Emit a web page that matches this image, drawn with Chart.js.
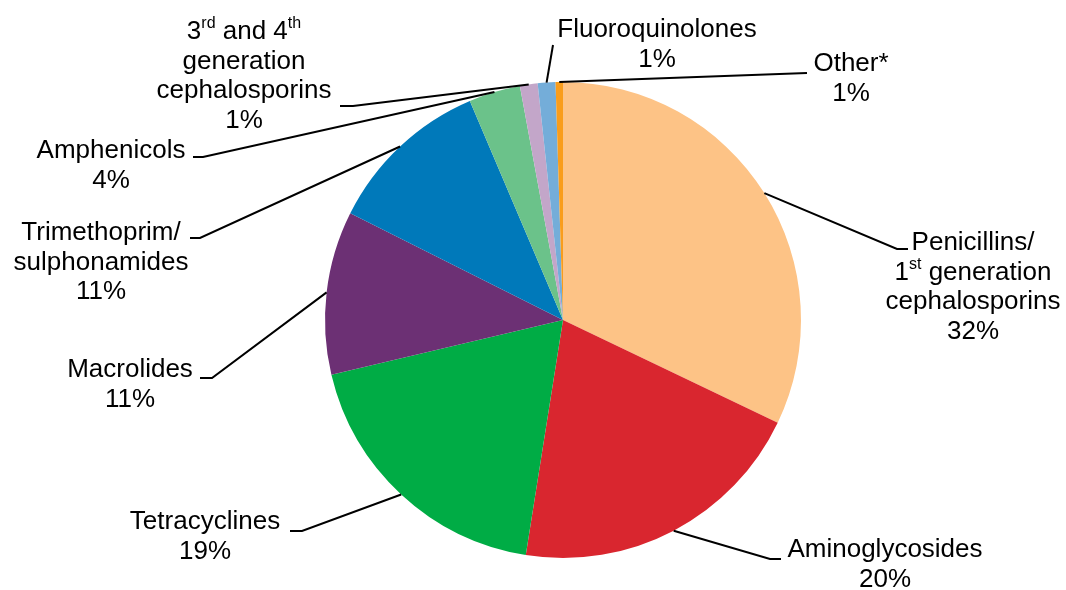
<!DOCTYPE html>
<html>
<head>
<meta charset="utf-8">
<script src="https://cdn.jsdelivr.net/npm/chart.js@4/dist/chart.umd.min.js"></script>
<style>
  html, body { margin: 0; padding: 0; background: #fff; }
  #wrap { width: 1066px; height: 590px; }
</style>
</head>
<body>
<div id="wrap"><canvas id="pie" width="1066" height="590"></canvas></div>
<script>
// ^{..} marks superscript text in the labels
const categories = [
  "Penicillins/\n1^{st} generation\ncephalosporins",
  "Aminoglycosides",
  "Tetracyclines",
  "Macrolides",
  "Trimethoprim/\nsulphonamides",
  "Amphenicols",
  "3^{rd} and 4^{th}\ngeneration\ncephalosporins",
  "Fluoroquinolones",
  "Other*"
];
const shares = [32.1, 20.4, 18.8, 11.1, 11.2, 3.5, 1.2, 1.2, 0.5];
const sliceColors = [
  "#FDC386", "#D9262F", "#00AC45", "#6C3074", "#0079BA",
  "#6BC28A", "#C3A6C9", "#74ADD9", "#F99D1C"
];

// where each label sits (centre of its first line) and how its leader bends
const labelLayout = [
  { x: 973, y: 243, elbow: [897, 249], end: 908 },
  { x: 885, y: 550, elbow: [770, 559], end: 781 },
  { x: 205, y: 522, elbow: [302, 531], end: 290 },
  { x: 130, y: 370, elbow: [212, 378], end: 200 },
  { x: 101, y: 233, elbow: [200, 238], end: 190 },
  { x: 111, y: 151, elbow: [203, 157], end: 193 },
  { x: 244, y: 32, elbow: [353, 106], end: 340 },
  { x: 657, y: 30, elbow: [553, 45], end: 553 },
  { x: 851, y: 64, elbow: [807, 73], end: 807 }
];

const FONT = '"Liberation Sans", Arial, sans-serif';
const FONT_SIZE = 26;
const SUP_SIZE = 16;
const LINE_H = 29.5;

function drawRich(ctx, text, cx, cy) {
  const parts = text.split(/\^\{(.*?)\}/);
  const segs = parts.map((t, i) => ({ t, sup: i % 2 === 1 }));
  let total = 0;
  segs.forEach(s => {
    ctx.font = (s.sup ? SUP_SIZE : FONT_SIZE) + "px " + FONT;
    s.w = ctx.measureText(s.t).width;
    total += s.w;
  });
  let x = cx - total / 2;
  segs.forEach(s => {
    ctx.font = (s.sup ? SUP_SIZE : FONT_SIZE) + "px " + FONT;
    ctx.fillText(s.t, x, s.sup ? cy - 8 : cy);
    x += s.w;
  });
}

const sliceLabels = {
  id: "sliceLabels",
  afterDatasetsDraw(chart) {
    const ctx = chart.ctx;
    const meta = chart.getDatasetMeta(0);
    const values = chart.data.datasets[0].data;
    ctx.save();
    meta.data.forEach((arc, i) => {
      const lay = labelLayout[i];
      const mid = (arc.startAngle + arc.endAngle) / 2;
      const sx = arc.x + Math.cos(mid) * arc.outerRadius;
      const sy = arc.y + Math.sin(mid) * arc.outerRadius;

      ctx.strokeStyle = "#000";
      ctx.lineWidth = 2;
      ctx.beginPath();
      ctx.moveTo(sx, sy);
      ctx.lineTo(lay.elbow[0], lay.elbow[1]);
      ctx.lineTo(lay.end, lay.elbow[1]);
      ctx.stroke();

      const lines = categories[i].split("\n").concat(Math.round(values[i]) + "%");
      ctx.fillStyle = "#000";
      ctx.textAlign = "left";
      ctx.textBaseline = "middle";
      lines.forEach((ln, k) => drawRich(ctx, ln, lay.x, lay.y + k * LINE_H));
    });
    ctx.restore();
  }
};

new Chart(document.getElementById("pie"), {
  type: "pie",
  data: {
    labels: categories.map(c => c.replace(/\^\{(.*?)\}/g, "$1").replace(/\n/g, " ")),
    datasets: [{
      data: shares,
      backgroundColor: sliceColors,
      borderWidth: 0
    }]
  },
  options: {
    responsive: false,
    animation: false,
    layout: { padding: { top: 82, bottom: 32, left: 325, right: 265 } },
    plugins: {
      legend: { display: false },
      tooltip: { enabled: false }
    }
  },
  plugins: [sliceLabels]
});
</script>
</body>
</html>
